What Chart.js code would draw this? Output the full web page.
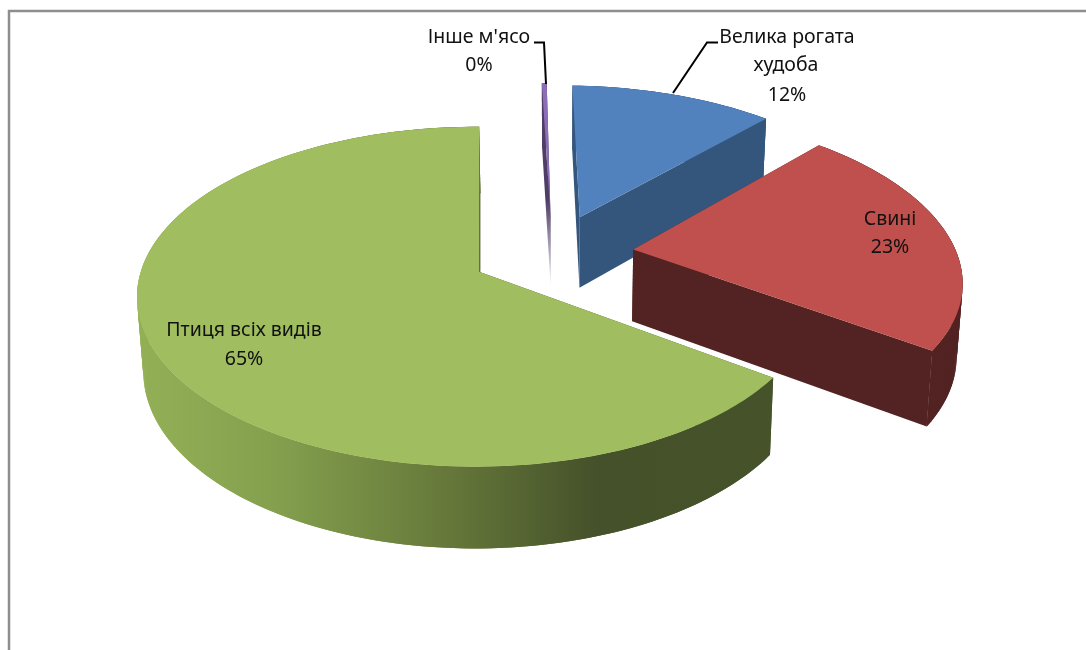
<!DOCTYPE html>
<html><head><meta charset="utf-8">
<script src="https://cdn.jsdelivr.net/npm/chart.js@4"></script>
<style>html,body{margin:0;padding:0;background:#fff}#w{position:relative;width:1086px;height:650px;overflow:hidden}
canvas{display:block}</style></head>
<body><div id="w"><canvas id="c" width="1086" height="650"></canvas></div>
<script>
const categories = ["Велика рогата худоба", "Свині", "Птиця всіх видів", "Інше м'ясо"];
const values = [11.7, 23, 65, 0.28];
const percentLabels = ["12%", "23%", "65%", "0%"];
const topColors = ["#5282BD", "#C0504D", "#A0BE5F", "#8D6DB5"];
const wallColors = ["#34567D", "#522322", "#45512A", "#4E3D66"];

// view of the tilted pie plane
const VIEW = {ox:480, oy:272, sx:335, sy:166.3, p:0.147, q:0.01, depth:73, conv:0.985, convX:560};
const EXPLODE = 0.25;
const PLANE_CENTER = {X:0.22, Y:-0.115};

function project(X, Y, low) {
  const w = 1 - VIEW.p * Y + VIEW.q * X;
  let x = VIEW.ox + VIEW.sx * X / w;
  let y = VIEW.oy + VIEW.sy * Y / w;
  if (low) { x = VIEW.convX + (x - VIEW.convX) * VIEW.conv; y += VIEW.depth * (1 + 0.7 * (1 / w - 1)); }
  return [x, y];
}
function tracePath(ctx, pts) {
  ctx.beginPath();
  pts.forEach((q, i) => i ? ctx.lineTo(q[0], q[1]) : ctx.moveTo(q[0], q[1]));
  ctx.closePath();
}
const pie3d = {
  id: 'pie3d',
  beforeDatasetDraw(chart) {
    const ctx = chart.ctx;
    const arcs = chart.getDatasetMeta(0).data;
    const order = [3, 0, 1, 2];
    order.forEach(i => {
      const a = arcs[i];
      const s = a.startAngle + Math.PI / 2, e = a.endAngle + Math.PI / 2, m = (s + e) / 2;
      const ax = PLANE_CENTER.X + EXPLODE * Math.sin(m), ay = PLANE_CENTER.Y - EXPLODE * Math.cos(m);
      const rim = [];
      const n = Math.max(8, Math.ceil((e - s) * 60));
      for (let k = 0; k <= n; k++) {
        const t = s + (e - s) * k / n;
        rim.push([ax + Math.sin(t), ay - Math.cos(t)]);
      }
      const plane = [[ax, ay]].concat(rim);
      const up = plane.map(q => project(q[0], q[1], false));
      const lo = plane.map(q => project(q[0], q[1], true));
      let fill = wallColors[i];
      if (i === 3) {
        const g = ctx.createLinearGradient(0, 200, 0, 278);
        g.addColorStop(0, '#4E3D66');
        g.addColorStop(1, '#E4E0EA');
        fill = g;
      }
      // cut faces
      ctx.fillStyle = fill;
      [[0, 1], [0, plane.length - 1]].forEach(([u, v]) => {
        tracePath(ctx, [up[u], up[v], lo[v], lo[u]]);
        ctx.fill();
      });
      // outer wall: overlapping quads so the sweep has no seams
      if (i === 2) {
        const g = ctx.createLinearGradient(135, 0, 775, 0);
        g.addColorStop(0, '#94B056');
        g.addColorStop(0.22, '#84A04E');
        g.addColorStop(0.5, '#647639');
        g.addColorStop(0.72, '#45512A');
        g.addColorStop(1, '#465229');
        fill = g;
      }
      ctx.fillStyle = fill;
      for (let k = 1; k < plane.length - 1; k++) {
        const k2 = Math.min(k + 2, plane.length - 1);
        tracePath(ctx, [up[k], up[k2], lo[k2], lo[k]]);
        ctx.fill();
      }
      // top face
      tracePath(ctx, up);
      ctx.fillStyle = topColors[i];
      ctx.fill();
    });
    return false;
  },
  afterDraw(chart) {
    const ctx = chart.ctx;
    // chart frame
    ctx.strokeStyle = '#8E8E8E'; ctx.lineWidth = 2.5;
    ctx.beginPath(); ctx.moveTo(9, 650); ctx.lineTo(9, 11); ctx.lineTo(1086, 11); ctx.stroke();
    // leaders
    ctx.strokeStyle = '#000'; ctx.lineWidth = 2;
    ctx.beginPath(); ctx.moveTo(718, 42.5); ctx.lineTo(707, 42.5); ctx.lineTo(673, 93); ctx.stroke();
    ctx.beginPath(); ctx.moveTo(534, 42.5); ctx.lineTo(544, 42.5); ctx.lineTo(546, 84); ctx.stroke();
    // labels
    ctx.fillStyle = '#111'; ctx.textAlign = 'center'; ctx.textBaseline = 'alphabetic';
    ctx.font = '19.5px "Noto Sans", sans-serif';
    const text = (t, x, y) => ctx.fillText(t, x, y);
    const [big1, big2] = [categories[0].split(' ').slice(0, 2).join(' '), categories[0].split(' ')[2]];
    text(big1, 787, 43); text(big2, 786, 71); text(percentLabels[0], 787, 101);
    text(categories[1], 890, 225); text(percentLabels[1], 890, 253);
    text(categories[2], 244, 336); text(percentLabels[2], 244, 365);
    text(categories[3], 479, 43); text(percentLabels[3], 479, 71);
  }
};
new Chart(document.getElementById('c'), {
  type: 'pie',
  data: { labels: categories, datasets: [{ data: values, backgroundColor: topColors, borderWidth: 0 }] },
  options: {
    responsive: false, animation: false, rotation: 1,
    plugins: { legend: { display: false }, tooltip: { enabled: false } }
  },
  plugins: [pie3d]
});
</script></body></html>
